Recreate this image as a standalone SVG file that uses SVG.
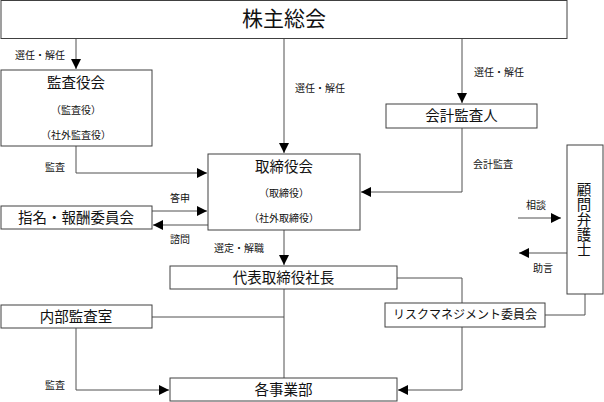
<svg xmlns="http://www.w3.org/2000/svg" width="604" height="402" viewBox="0 0 604 402">
<defs>
<style>
.box{fill:#fff;stroke:#404040;stroke-width:1}
.ln{fill:none;stroke:#505050;stroke-width:1}
text{font-family:"Liberation Serif","Noto Sans CJK JP",serif;fill:#111;text-anchor:middle;dominant-baseline:central}
.big{font-size:21px}
.m{font-size:14.5px}
.s{font-size:10px}
.lb{font-size:10px}
.r{font-size:12px}
</style>
<marker id="ah" markerUnits="userSpaceOnUse" markerWidth="10" markerHeight="10" refX="9" refY="4.5" orient="auto" viewBox="0 0 9 9">
<path d="M0,0 L9,4.5 L0,9 z" fill="#000"/>
</marker>
</defs>
<g id="connectors">
<path class="ln" d="M76,38 V69" marker-end="url(#ah)"/>
<path class="ln" d="M284,38 V153" marker-end="url(#ah)"/>
<path class="ln" d="M462,38 V103" marker-end="url(#ah)"/>
<path class="ln" d="M462,128 V192 H361" marker-end="url(#ah)"/>
<path class="ln" d="M76,146 V173 H207" marker-end="url(#ah)"/>
<path class="ln" d="M152,211 H207" marker-end="url(#ah)"/>
<path class="ln" d="M208,225 H153" marker-end="url(#ah)"/>
<path class="ln" d="M284,230 V265" marker-end="url(#ah)"/>
<path class="ln" d="M518,218 H561" marker-end="url(#ah)"/>
<path class="ln" d="M567,253 H519" marker-end="url(#ah)"/>
<path class="ln" d="M397,278 H462 V303"/>
<path class="ln" d="M585,294 V315 H545"/>
<path class="ln" d="M462,327 V390 H398" marker-end="url(#ah)"/>
<path class="ln" d="M152,317 H284"/>
<path class="ln" d="M284,289 V378"/>
<path class="ln" d="M76,328 V390 H169" marker-end="url(#ah)"/>
<text class="lb" x="40" y="55">選任・解任</text>
<text class="lb" x="320" y="88">選任・解任</text>
<text class="lb" x="499" y="72">選任・解任</text>
<text class="lb" x="55" y="167">監査</text>
<text class="lb" x="493" y="164">会計監査</text>
<text class="lb" x="180" y="198">答申</text>
<text class="lb" x="180" y="239">諮問</text>
<text class="lb" x="239" y="248">選定・解職</text>
<text class="lb" x="536" y="205">相談</text>
<text class="lb" x="543" y="268">助言</text>
<text class="lb" x="55" y="385">監査</text>
</g>
<g id="kabunushi">
<rect class="box" x="1" y="0.5" width="566" height="38"/>
<text class="big" x="284" y="19">株主総会</text>
</g>
<g id="kansayakukai">
<rect class="box" x="1" y="70" width="151" height="76"/>
<text class="m" x="76" y="83">監査役会</text>
<text class="s" x="76" y="110">（監査役）</text>
<text class="s" x="76" y="135">（社外監査役）</text>
</g>
<g id="kaikei">
<rect class="box" x="386" y="104" width="151" height="24"/>
<text class="m" x="461.5" y="116">会計監査人</text>
</g>
<g id="torishimariyakukai">
<rect class="box" x="208" y="154" width="152" height="76"/>
<text class="m" x="284" y="167">取締役会</text>
<text class="s" x="284" y="193">（取締役）</text>
<text class="s" x="284" y="218">（社外取締役）</text>
</g>
<g id="shimei">
<rect class="box" x="1" y="206" width="151" height="23"/>
<text class="m" x="76" y="217.5">指名・報酬委員会</text>
</g>
<g id="komon">
<rect class="box" x="567" y="145" width="36" height="149"/>
<text class="m" x="584" y="190">顧</text>
<text class="m" x="584" y="205">問</text>
<text class="m" x="584" y="220">弁</text>
<text class="m" x="584" y="235">護</text>
<text class="m" x="584" y="250">士</text>
</g>
<g id="shacho">
<rect class="box" x="170" y="266" width="227" height="23"/>
<text class="m" x="283.5" y="277.5">代表取締役社長</text>
</g>
<g id="naibu">
<rect class="box" x="1" y="305" width="151" height="23"/>
<text class="m" x="76" y="316.5">内部監査室</text>
</g>
<g id="risk">
<rect class="box" x="385" y="303" width="160" height="24"/>
<text class="r" x="465" y="315">リスクマネジメント委員会</text>
</g>
<g id="jigyobu">
<rect class="box" x="170" y="378" width="227" height="23"/>
<text class="m" x="283.5" y="389.5">各事業部</text>
</g>
</svg>
